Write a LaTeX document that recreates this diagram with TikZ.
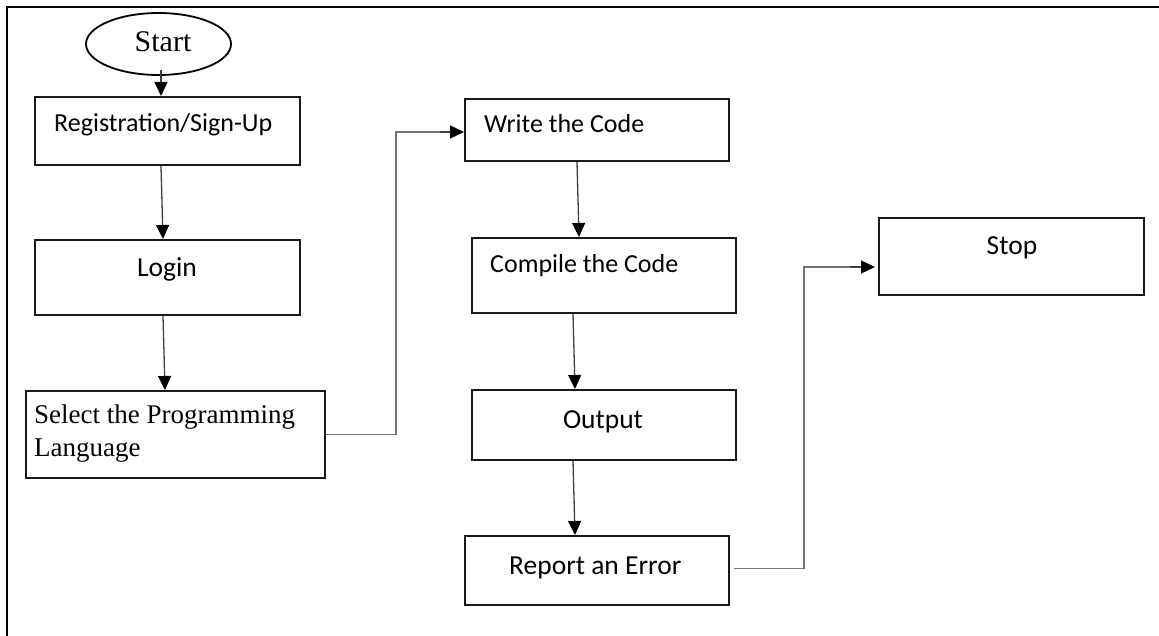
\documentclass[tikz,border=0pt]{standalone}
\usepackage{fontspec}
\setmainfont{Carlito}
\newfontfamily\timesfont{Liberation Serif}
\usetikzlibrary{shapes.geometric,arrows.meta,calc}

\begin{document}
\begin{tikzpicture}[x=1pt,y=-1pt,
  stepbox/.style={draw=black!90, line width=2pt, rectangle, inner sep=0pt},
  lbl/.style={inner sep=0pt, font=\fontsize{26}{31}\selectfont},
  lblbig/.style={inner sep=0pt, font=\fontsize{27.5}{33}\selectfont},
  flow/.style={draw=black!75, line width=1.3pt,
    -{Triangle[width=13pt,length=14pt,fill=black,color=black]}},
  elbow/.style={draw=black!55, line width=1.6pt, line join=miter},
  frameline/.style={draw=black, line width=2.6pt}]

  \useasboundingbox (0,0) rectangle (1159,636);
  \fill[white] (0,0) rectangle (1159,636);

  % outer frame (top and left edges)
  \draw[frameline] (1159,7) -- (7,7) -- (7,636);

  % terminal
  \node[draw=black, line width=1.8pt, ellipse, minimum width=145pt, minimum height=62pt]
    (start) at (158.5,44) {};
  \node[anchor=base, inner sep=0pt, font=\timesfont\fontsize{30}{34}\selectfont]
    (startlbl) at (163,52) {Start};

  % left column
  \node[stepbox, minimum width=265pt, minimum height=68pt] (reg) at (167.5,131) {};
  \node[lbl, anchor=base west] (reglbl) at (54,132) {Registration/Sign-Up};

  \node[stepbox, minimum width=265pt, minimum height=75pt] (login) at (167.5,277.5) {};
  \node[lblbig, anchor=base] (loginlbl) at (167,277) {Login};

  \node[stepbox, minimum width=299pt, minimum height=87pt] (select) at (175.5,434.5) {};
  \node[anchor=base west, inner sep=0pt, font=\timesfont\fontsize{27}{33}\selectfont]
    (sellbl1) at (34,423) {Select the Programming};
  \node[anchor=base west, inner sep=0pt, font=\timesfont\fontsize{27}{33}\selectfont]
    (sellbl2) at (34,456) {Language};

  % middle column
  \node[stepbox, minimum width=264pt, minimum height=62pt] (write) at (597,130) {};
  \node[lbl, anchor=base west] (writelbl) at (484,133) {Write the Code};

  \node[stepbox, minimum width=264pt, minimum height=75pt] (compile) at (604,275.5) {};
  \node[lbl, anchor=base west] (complbl) at (490,273) {Compile the Code};

  \node[stepbox, minimum width=264pt, minimum height=70pt] (output) at (604,425) {};
  \node[lblbig, anchor=base] (outlbl) at (603,428) {Output};

  \node[stepbox, minimum width=264pt, minimum height=69pt] (report) at (597,570.5) {};
  \node[lblbig, anchor=base west] (replbl) at (509,574) {Report an Error};

  % right column
  \node[stepbox, minimum width=265pt, minimum height=77pt] (stop) at (1011.5,256.5) {};
  \node[lblbig, anchor=base] (stoplbl) at (1012,255) {Stop};

  % straight connectors
  \draw[flow] (161,70) -- (reg.north -| 161,0);
  \draw[flow] (reg.south -| 161,0) -- (login.north -| 163,0);
  \draw[flow] (login.south -| 163,0) -- (select.north -| 165,0);
  \draw[flow] (write.south -| 577,0) -- (compile.north -| 579,0);
  \draw[flow] (compile.south -| 573,0) -- (output.north -| 575,0);
  \draw[flow] (output.south -| 573,0) -- (report.north -| 575,0);

  % elbow connectors
  \coordinate (bendA) at (396,132);
  \coordinate (bendB) at (804,267);
  \draw[elbow] (select.east) -| (bendA) -- (bendA -| 440,0);
  \draw[flow] (bendA -| 440,0) -- (bendA -| write.west);
  \draw[elbow] ($(report.east)+(4,-2)$) -| (bendB) -- (bendB -| 850,0);
  \draw[flow] (bendB -| 850,0) -- ($(bendB -| stop.west)+(-3,0)$);
\end{tikzpicture}
\end{document}
